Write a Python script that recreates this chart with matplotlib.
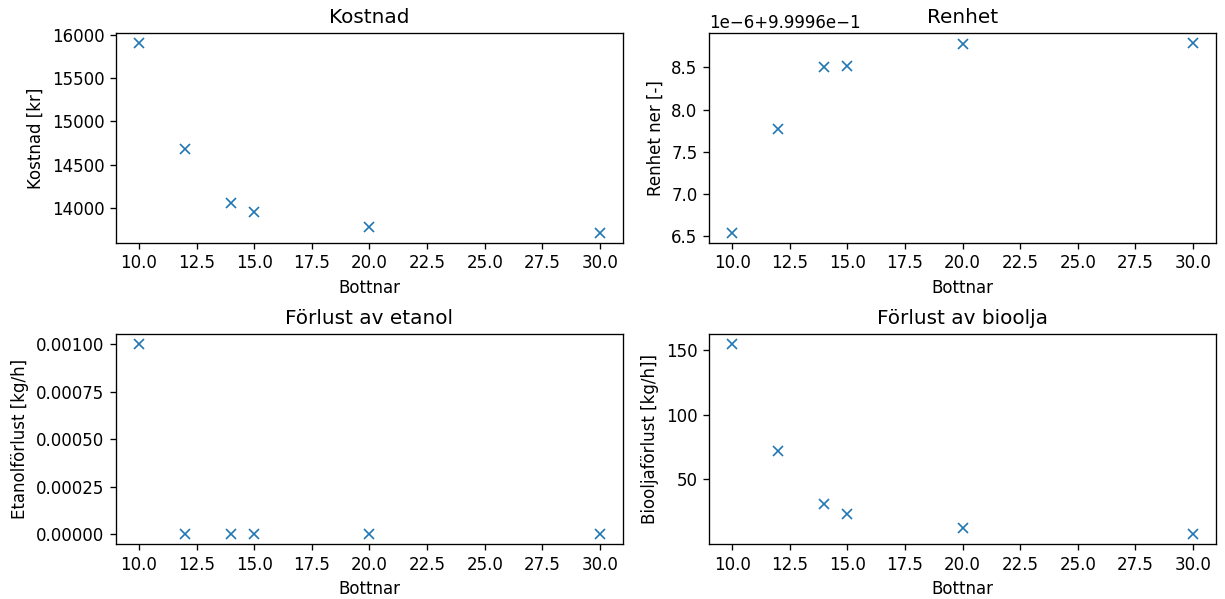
import numpy as np
import matplotlib
matplotlib.use("Agg")
import matplotlib.pyplot as plt
from matplotlib.ticker import MultipleLocator

bottnar = [10, 12, 14, 15, 20, 30]
kostnad = [15913, 14681, 14063, 13953, 13776, 13709]
renhet = [0.99996 + v * 1e-6 for v in [6.536, 7.773, 8.504, 8.52, 8.775, 8.795]]
etanol_forlust = [1.0e-3, 1e-8, 5e-9, 3e-9, 1e-9, 1e-10]
bioolja_forlust = [154.7, 71.6, 31.3, 23.4, 12.4, 7.4]

fig, axs = plt.subplots(2, 2, figsize=(1225 / 120, 599 / 120), dpi=120)

axs[0, 0].plot(bottnar, kostnad, 'x')
axs[0, 0].set_title('Kostnad')
axs[0, 0].set_ylabel('Kostnad [kr]')
axs[0, 0].set_xlabel('Bottnar')

axs[0, 1].plot(bottnar, renhet, 'x')
axs[0, 1].set_title('Renhet')
axs[0, 1].set_ylabel('Renhet ner [-]')
axs[0, 1].set_xlabel('Bottnar')

axs[1, 0].plot(bottnar, etanol_forlust, 'x')
axs[1, 0].set_title('Förlust av etanol')
axs[1, 0].set_ylabel('Etanolförlust [kg/h]')
axs[1, 0].set_xlabel('Bottnar')
axs[1, 0].yaxis.set_major_locator(MultipleLocator(0.00025))

axs[1, 1].plot(bottnar, bioolja_forlust, 'x')
axs[1, 1].set_title('Förlust av bioolja')
axs[1, 1].set_ylabel('Biooljaförlust [kg/h]]')
axs[1, 1].set_xlabel('Bottnar')

# placement
plt.subplots_adjust(left=0.0947, right=0.9927, top=0.9449, bottom=0.0918,
                    wspace=0.170, hspace=0.4375)
plt.savefig('out.png')
